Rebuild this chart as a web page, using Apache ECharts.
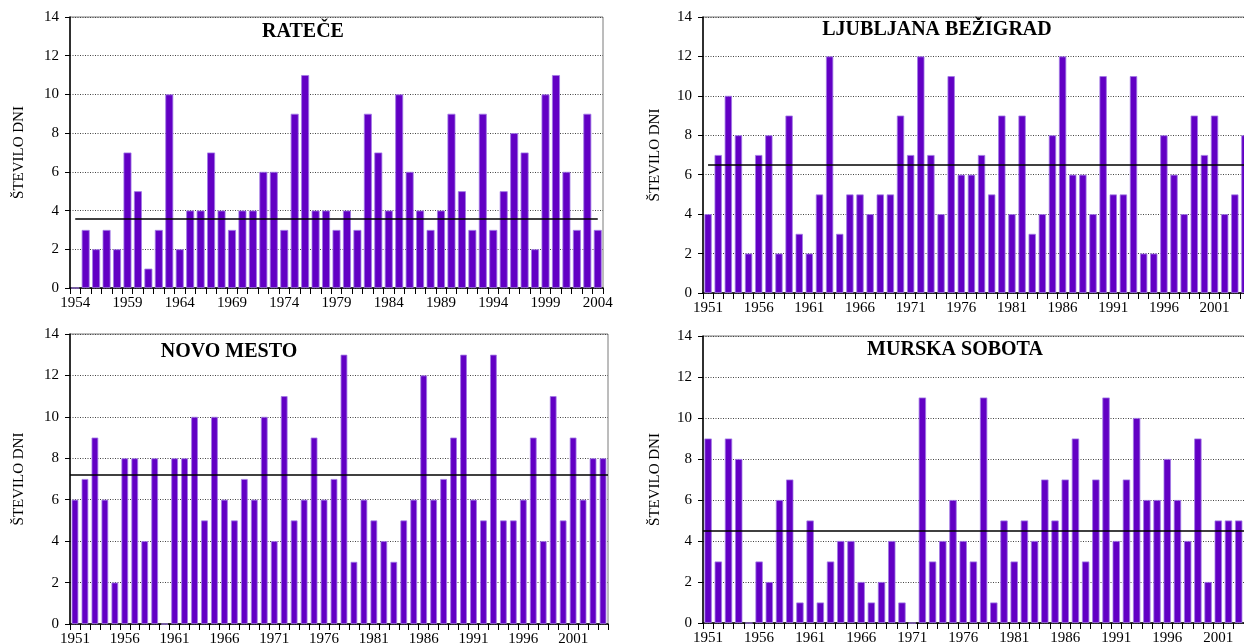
<!DOCTYPE html>
<html>
<head>
<meta charset="utf-8">
<script src="https://cdn.jsdelivr.net/npm/echarts@6/dist/echarts.min.js"></script>
<style>
html,body{margin:0;padding:0;background:#fff;}
#chart{width:1244px;height:643px;}
</style>
</head>
<body>
<div id="chart"></div>
<script>
// ---- Data ----
var rateceYears = ['1954','1955','1956','1957','1958','1959','1960','1961','1962','1963','1964','1965','1966','1967','1968','1969','1970','1971','1972','1973','1974','1975','1976','1977','1978','1979','1980','1981','1982','1983','1984','1985','1986','1987','1988','1989','1990','1991','1992','1993','1994','1995','1996','1997','1998','1999','2000','2001','2002','2003','2004'];
var rateceValues = [0,3,2,3,2,7,5,1,3,10,2,4,4,7,4,3,4,4,6,6,3,9,11,4,4,3,4,3,9,7,4,10,6,4,3,4,9,5,3,9,3,5,8,7,2,10,11,6,3,9,3];
var rateceMean = 3.6;

var years5104 = ['1951','1952','1953','1954','1955','1956','1957','1958','1959','1960','1961','1962','1963','1964','1965','1966','1967','1968','1969','1970','1971','1972','1973','1974','1975','1976','1977','1978','1979','1980','1981','1982','1983','1984','1985','1986','1987','1988','1989','1990','1991','1992','1993','1994','1995','1996','1997','1998','1999','2000','2001','2002','2003','2004'];

var ljubljanaValues = [4,7,10,8,2,7,8,2,9,3,2,5,12,3,5,5,4,5,5,9,7,12,7,4,11,6,6,7,5,9,4,9,3,4,8,12,6,6,4,11,5,5,11,2,2,8,6,4,9,7,9,4,5,8];
var ljubljanaMean = 6.5;

var novoMestoValues = [6,7,9,6,2,8,8,4,8,0,8,8,10,5,10,6,5,7,6,10,4,11,5,6,9,6,7,13,3,6,5,4,3,5,6,12,6,7,9,13,6,5,13,5,5,6,9,4,11,5,9,6,8,8];
var novoMestoMean = 7.2;

var murskaValues = [9,3,9,8,0,3,2,6,7,1,5,1,3,4,4,2,1,2,4,1,0,11,3,4,6,4,3,11,1,5,3,5,4,7,5,7,9,3,7,11,4,7,10,6,6,8,6,4,9,2,5,5,5,null];
var murskaMean = 4.5;

var yTicks = {min: 0, max: 14, interval: 2};
var axisName = 'ŠTEVILO DNI';
var panelTitles = ['RATEČE', 'LJUBLJANA BEŽIGRAD', 'NOVO MESTO', 'MURSKA SOBOTA'];

// ---- Chart ----
var FONT = '"Liberation Serif", "Times New Roman", serif';
var chart = echarts.init(document.getElementById('chart'), null, {renderer: 'canvas'});

var grids = [
  {left: 70, top: 17, right: 641, bottom: 355},
  {left: 703, top: 17, right: -6, bottom: 350},
  {left: 70, top: 334, right: 636, bottom: 19},
  {left: 703, top: 336, right: -10, bottom: 20}
];
grids.forEach(function (g) {
  g.show = true; g.borderColor = '#7a7a7a'; g.borderWidth = 1; g.backgroundColor = 'transparent';
  g.containLabel = false; g.outerBoundsMode = 'none';
});

var cats = [rateceYears, years5104, years5104, years5104];
var nameGaps = [43, 40, 43, 40];

var xAxes = cats.map(function (c, i) {
  return {
    type: 'category', gridIndex: i, data: c, boundaryGap: true,
    axisLine: {lineStyle: {color: '#000', width: 1.5}},
    axisTick: {show: true, interval: 0, length: 6, lineStyle: {color: '#000'}},
    axisLabel: {interval: 4, color: '#000', fontFamily: FONT, fontSize: 15, margin: 8},
    splitLine: {show: false}
  };
});
var yAxes = cats.map(function (c, i) {
  return {
    type: 'value', gridIndex: i, min: yTicks.min, max: yTicks.max, interval: yTicks.interval,
    name: axisName, nameLocation: 'middle', nameRotate: 90, nameGap: nameGaps[i],
    nameTextStyle: {color: '#000', fontFamily: FONT, fontSize: 15},
    axisLine: {show: true, lineStyle: {color: '#000', width: 1.5}},
    axisTick: {show: true, length: 5, lineStyle: {color: '#000'}},
    axisLabel: {color: '#000', fontFamily: FONT, fontSize: 15, margin: 11},
    splitLine: {show: true, lineStyle: {color: '#444', type: [1, 1.5], width: 1}}
  };
});

var seriesData = [rateceValues, ljubljanaValues, novoMestoValues, murskaValues];
var gaps = ['24%', '28%', '33%', '28%'];
var means = [rateceMean, ljubljanaMean, novoMestoMean, murskaMean];

function meanLine(i) {
  var c = cats[i];
  if (i === 0 || i === 1) return [[{coord: [c[0], means[i]]}, {coord: [c[c.length - 1], means[i]]}]];
  return [{yAxis: means[i]}];
}

var series = seriesData.map(function (d, i) {
  return {
    type: 'bar', xAxisIndex: i, yAxisIndex: i, data: d,
    barCategoryGap: gaps[i],
    itemStyle: {color: '#6200c4', borderColor: '#a27ae6', borderWidth: 0.8},
    animation: false,
    markLine: {
      silent: true, symbol: 'none', animation: false,
      label: {show: false},
      lineStyle: {color: '#000', width: 1.6, type: 'solid'},
      data: meanLine(i)
    }
  };
});

var titlePos = [[303, 32], [937, 30], [229, 352], [955, 350]];
var graphics = panelTitles.map(function (t, i) {
  return {
    type: 'text', x: titlePos[i][0], y: titlePos[i][1], z: 100,
    style: {text: t, fill: '#000', font: 'bold 20px ' + FONT, textAlign: 'center', textVerticalAlign: 'middle'}
  };
});

chart.setOption({
  animation: false,
  grid: grids,
  xAxis: xAxes,
  yAxis: yAxes,
  series: series,
  graphic: graphics
});
</script>
</body>
</html>
